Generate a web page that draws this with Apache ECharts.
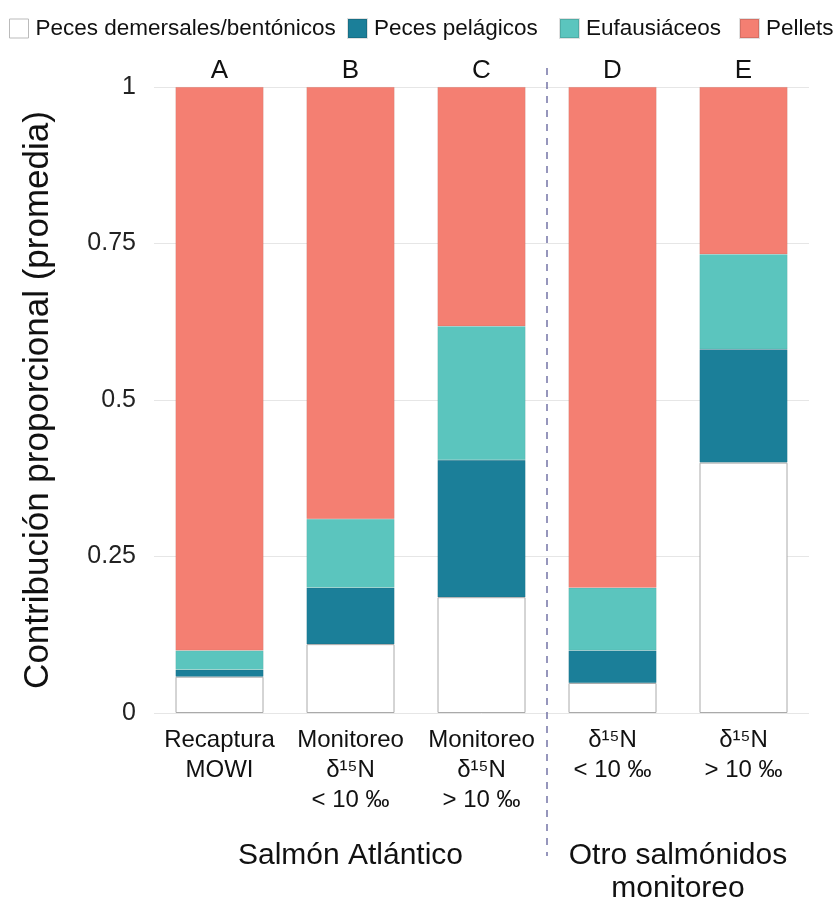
<!DOCTYPE html>
<html><head><meta charset="utf-8">
<script src="https://cdn.jsdelivr.net/npm/echarts@6/dist/echarts.min.js"></script>
<style>html,body{margin:0;padding:0;background:#fff}#c{width:837px;height:904px}</style>
</head><body><div id="c"></div>
<script>
const categories = ['Recaptura\nMOWI', 'Monitoreo\nδ¹⁵N\n< 10 ‰', 'Monitoreo\nδ¹⁵N\n> 10 ‰', 'δ¹⁵N\n< 10 ‰', 'δ¹⁵N\n> 10 ‰'];
const letters = ['A', 'B', 'C', 'D', 'E'];
const seriesNames = ['Peces demersales/bentónicos', 'Peces pelágicos', 'Eufausiáceos', 'Pellets'];
const demersales = [0.058, 0.11, 0.185, 0.048, 0.40];
const pelagicos = [0.011, 0.09, 0.219, 0.052, 0.181];
const eufausiaceos = [0.031, 0.11, 0.214, 0.10, 0.152];
const pellets = [0.90, 0.69, 0.382, 0.80, 0.267];
const yTicks = [0, 0.25, 0.5, 0.75, 1];
const groupLabels = ['Salmón Atlántico', 'Otro salmónidos\nmonitoreo'];

const colors = ['#ffffff', '#1b7f99', '#5bc5be', '#f47f72'];
const font = 'Liberation Sans, Arial, sans-serif';
const chart = echarts.init(document.getElementById('c'));
const vals = [demersales, pelagicos, eufausiaceos, pellets];
const legendX = [4, 342, 554, 734];
chart.setOption({
  animation: false,
  legend: seriesNames.map((n, i) => ({
    data: [{name: n, itemStyle: i === 0 ? {borderColor: '#bbbbbb', borderWidth: 1} : {}}],
    left: legendX[i], top: 12, itemWidth: 19, itemHeight: 19, itemGap: 4,
    textStyle: {fontFamily: font, fontSize: 22.5, color: '#111', padding: [0, 0, 0, 2]},
    icon: 'rect'
  })),
  grid: {left: 154, right: 28, top: 87, bottom: 191},
  xAxis: [{
    type: 'category', data: categories, position: 'bottom',
    axisLine: {show: false}, axisTick: {show: false},
    axisLabel: {fontFamily: font, fontSize: 24, color: '#111', lineHeight: 30, margin: 12, interval: 0}
  }, {
    type: 'category', data: letters, position: 'top',
    axisLine: {show: false}, axisTick: {show: false},
    axisLabel: {fontFamily: font, fontSize: 26, color: '#111', margin: 3, interval: 0}
  }],
  yAxis: {
    type: 'value', min: 0, max: 1, interval: 0.25,
    name: 'Contribución proporcional (promedia)', nameLocation: 'middle', nameGap: 98,
    nameTextStyle: {fontFamily: font, fontSize: 35, color: '#111'},
    axisLabel: {fontFamily: font, fontSize: 25, color: '#222', margin: 18,
      formatter: v => yTicks.includes(v) ? String(v) : ''},
    splitLine: {lineStyle: {color: '#e6e6e6'}},
    axisLine: {show: false}, axisTick: {show: false}
  },
  series: seriesNames.map((n, i) => ({
    name: n, type: 'bar', stack: 'total', data: vals[i], barWidth: 88,
    itemStyle: {color: colors[i], borderColor: i === 0 ? '#aaaaaa' : 'rgba(0,0,0,0.12)', borderWidth: i === 0 ? 1 : 0.5}
  }))
});
const px = i => chart.convertToPixel({xAxisIndex: 0}, i);
const divX = (px(2) + px(3)) / 2;
const g1 = px(1), g2 = (px(3) + px(4)) / 2;
chart.setOption({
  graphic: [
    {type: 'line', shape: {x1: divX, y1: 68, x2: divX, y2: 856}, style: {stroke: '#7474a6', lineWidth: 1.5, lineDash: [7, 7]}, z: 10},
    {type: 'text', x: g1, y: 856, style: {text: groupLabels[0], fontFamily: font, fontSize: 30, fill: '#111', align: 'center', verticalAlign: 'middle'}},
    {type: 'text', x: g2, y: 839, style: {text: groupLabels[1], fontFamily: font, fontSize: 30, fill: '#111', align: 'center', verticalAlign: 'top', lineHeight: 33}}
  ]
});
</script></body></html>
